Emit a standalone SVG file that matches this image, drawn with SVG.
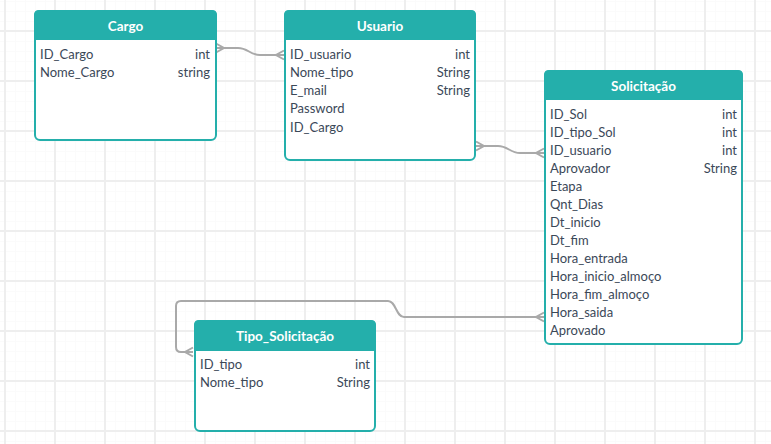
<svg xmlns="http://www.w3.org/2000/svg" width="771" height="444" viewBox="0 0 771 444">
  <defs>
    <pattern id="minor" patternUnits="userSpaceOnUse" x="5" y="1" width="10" height="10">
      <path d="M0.5,0 V10 M0,0.5 H10" fill="none" stroke="#fbfbfb" stroke-width="1"/>
    </pattern>
    <pattern id="major" patternUnits="userSpaceOnUse" x="4" y="30" width="50" height="50">
      <path d="M1,0 V50 M0,1 H50" fill="none" stroke="#eeeeee" stroke-width="2"/>
    </pattern>
    <style>
      .box { fill: #ffffff; stroke: #24afab; stroke-width: 2; }
      .head { fill: #24afab; }
      .title { font-family: Lato, "Open Sans", sans-serif; font-size: 13.5px; font-weight: bold; fill: #ffffff; text-anchor: middle; }
      .f { font-family: Lato, "Open Sans", sans-serif; font-size: 13px; fill: #3b4858; }
      .t { font-family: Lato, "Open Sans", sans-serif; font-size: 13px; fill: #3b4858; text-anchor: end; }
      .link { fill: none; stroke: #a9a9a9; stroke-width: 2; }
    </style>
  </defs>

  <!-- canvas grid -->
  <rect width="771" height="444" fill="#ffffff"/>
  <rect width="771" height="444" fill="url(#minor)"/>
  <rect width="771" height="444" fill="url(#major)"/>

  <!-- relationships -->
  <g id="connectors">
    <path class="link" d="M216,48 H238 C248,48 250,55 260,55 H284"/>
    <path class="link" d="M216,43.5 L224,48 L216,52.5"/>
    <path class="link" d="M284,50.5 L276,55 L284,59.5"/>

    <path class="link" d="M476,146 H498 C508,146 510,153 520,153 H544"/>
    <path class="link" d="M476,141.5 L484,146 L476,150.5"/>
    <path class="link" d="M544,148.5 L536,153 L544,157.5"/>

    <path class="link" d="M544,317 H404 C396,317 396,301 388,301 H181 Q176,301 176,306 V347 Q176,352 181,352 H193"/>
    <path class="link" d="M544,312.5 L536,317 L544,321.5"/>
    <path class="link" d="M193,347.5 L185,352 L193,356.5"/>
  </g>

  <!-- Cargo -->
  <g id="cargo">
    <rect class="box" x="35" y="11" width="181" height="129" rx="5"/>
    <path class="head" d="M34,40 V15 Q34,10 39,10 H212 Q217,10 217,15 V40 Z"/>
    <text class="title" x="125.5" y="31">Cargo</text>
    <text class="f" x="40" y="59">ID_Cargo</text>
    <text class="t" x="210" y="59">int</text>
    <text class="f" x="40" y="77">Nome_Cargo</text>
    <text class="t" x="210" y="77">string</text>
  </g>

  <!-- Usuario -->
  <g id="usuario">
    <rect class="box" x="285" y="11" width="190" height="149" rx="5"/>
    <path class="head" d="M284,40 V15 Q284,10 289,10 H471 Q476,10 476,15 V40 Z"/>
    <text class="title" x="380" y="31">Usuario</text>
    <text class="f" x="290" y="59">ID_usuario</text>
    <text class="t" x="470" y="59">int</text>
    <text class="f" x="290" y="77">Nome_tipo</text>
    <text class="t" x="470" y="77">String</text>
    <text class="f" x="290" y="95">E_mail</text>
    <text class="t" x="470" y="95">String</text>
    <text class="f" x="290" y="113">Password</text>
    <text class="f" x="290" y="132">ID_Cargo</text>
  </g>

  <!-- Solicitação -->
  <g id="solicitacao">
    <rect class="box" x="545" y="71" width="197" height="273" rx="5"/>
    <path class="head" d="M544,100 V75 Q544,70 549,70 H738 Q743,70 743,75 V100 Z"/>
    <text class="title" x="643.5" y="91">Solicitação</text>
    <text class="f" x="550" y="119">ID_Sol</text>
    <text class="t" x="737" y="119">int</text>
    <text class="f" x="550" y="137">ID_tipo_Sol</text>
    <text class="t" x="737" y="137">int</text>
    <text class="f" x="550" y="155">ID_usuario</text>
    <text class="t" x="737" y="155">int</text>
    <text class="f" x="550" y="173">Aprovador</text>
    <text class="t" x="737" y="173">String</text>
    <text class="f" x="550" y="191">Etapa</text>
    <text class="f" x="550" y="209">Qnt_Dias</text>
    <text class="f" x="550" y="227">Dt_inicio</text>
    <text class="f" x="550" y="245">Dt_fim</text>
    <text class="f" x="550" y="263">Hora_entrada</text>
    <text class="f" x="550" y="281">Hora_inicio_almoço</text>
    <text class="f" x="550" y="299">Hora_fim_almoço</text>
    <text class="f" x="550" y="317">Hora_saida</text>
    <text class="f" x="550" y="335">Aprovado</text>
  </g>

  <!-- Tipo_Solicitação -->
  <g id="tipo_solicitacao">
    <rect class="box" x="195" y="321" width="180" height="110" rx="5"/>
    <path class="head" d="M194,351 V325 Q194,320 199,320 H371 Q376,320 376,325 V351 Z"/>
    <text class="title" x="285" y="341">Tipo_Solicitação</text>
    <text class="f" x="200" y="369">ID_tipo</text>
    <text class="t" x="370" y="369">int</text>
    <text class="f" x="200" y="387">Nome_tipo</text>
    <text class="t" x="370" y="387">String</text>
  </g>
</svg>
